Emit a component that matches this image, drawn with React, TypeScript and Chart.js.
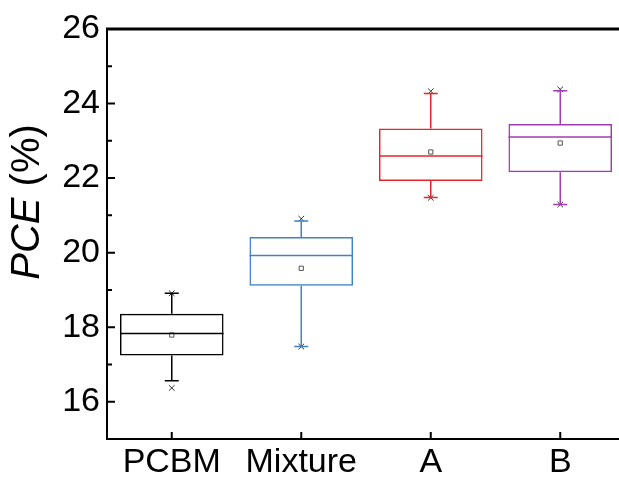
import React, { useEffect, useRef } from "react";
import { Chart, registerables } from "chart.js";

Chart.register(...registerables);

const categories = ["PCBM", "Mixture", "A", "B"];
const q1 = [17.24, 19.11, 21.92, 22.16];
const q3 = [18.36, 20.42, 23.33, 23.45];
const medians = [17.83, 19.92, 22.59, 23.1];
const means = [17.79, 19.58, 22.7, 22.94];
const whiskerLow = [16.56, 17.48, 21.48, 21.29];
const whiskerHigh = [18.91, 20.85, 24.27, 24.34];
const minVals = [16.37, 17.48, 21.47, 21.29];
const maxVals = [18.91, 20.91, 24.33, 24.38];
const yTicks = [16, 18, 20, 22, 24, 26];
const yMinorTicks = [17, 19, 21, 23, 25];
const colors = ["#000000", "#3f82c6", "#e8242b", "#a13db3"];

const FONT = "'Liberation Sans', Arial, sans-serif";

const boxPlugin = {
  id: "boxExtras",
  afterDatasetsDraw(chart: any) {
    const ctx = chart.ctx;
    const x = chart.scales.x;
    const y = chart.scales.y;
    const meta = chart.getDatasetMeta(0);
    ctx.save();
    categories.forEach((_, i) => {
      const bar = meta.data[i];
      const cx = x.getPixelForValue(i);
      const half = bar.width / 2;
      ctx.strokeStyle = colors[i];
      ctx.lineWidth = 1.5;
      ctx.beginPath();
      const ym = y.getPixelForValue(medians[i]);
      ctx.moveTo(cx - half, ym);
      ctx.lineTo(cx + half, ym);
      ctx.moveTo(cx, y.getPixelForValue(q3[i]));
      ctx.lineTo(cx, y.getPixelForValue(whiskerHigh[i]));
      ctx.moveTo(cx, y.getPixelForValue(q1[i]));
      ctx.lineTo(cx, y.getPixelForValue(whiskerLow[i]));
      const capH = y.getPixelForValue(whiskerHigh[i]);
      const capL = y.getPixelForValue(whiskerLow[i]);
      ctx.moveTo(cx - 7, capH);
      ctx.lineTo(cx + 7, capH);
      ctx.moveTo(cx - 7, capL);
      ctx.lineTo(cx + 7, capL);
      ctx.stroke();
    });
    ctx.restore();
  },
  afterDraw(chart: any) {
    const ctx = chart.ctx;
    const a = chart.chartArea;
    const x = chart.scales.x;
    const y = chart.scales.y;
    ctx.save();
    ctx.strokeStyle = "#000";
    ctx.lineCap = "butt";
    ctx.lineWidth = 2;
    ctx.beginPath();
    ctx.moveTo(a.left, a.top - 1);
    ctx.lineTo(a.left, a.bottom);
    ctx.lineTo(a.right, a.bottom);
    ctx.stroke();
    ctx.lineWidth = 3;
    ctx.beginPath();
    ctx.moveTo(a.left - 1, a.top);
    ctx.lineTo(a.right, a.top);
    ctx.stroke();
    ctx.lineWidth = 2;
    ctx.beginPath();
    yTicks.forEach((v) => {
      const py = y.getPixelForValue(v);
      ctx.moveTo(a.left, py);
      ctx.lineTo(a.left + 8, py);
    });
    yMinorTicks.forEach((v) => {
      const py = y.getPixelForValue(v);
      ctx.moveTo(a.left, py);
      ctx.lineTo(a.left + 5, py);
    });
    categories.forEach((_, i) => {
      const px = x.getPixelForValue(i);
      ctx.moveTo(px, a.bottom);
      ctx.lineTo(px, a.bottom - 7);
    });
    ctx.stroke();
    const size = 40;
    const part1 = "PCE";
    const part2 = " (%)";
    ctx.fillStyle = "#000";
    ctx.font = `italic ${size}px ${FONT}`;
    const w1 = ctx.measureText(part1).width;
    ctx.font = `${size}px ${FONT}`;
    const w2 = ctx.measureText(part2).width;
    const total = w1 + w2;
    ctx.translate(28, 202);
    ctx.rotate(-Math.PI / 2);
    ctx.textBaseline = "middle";
    ctx.textAlign = "left";
    ctx.font = `italic ${size}px ${FONT}`;
    ctx.fillText(part1, -total / 2, 0);
    ctx.font = `${size}px ${FONT}`;
    ctx.fillText(part2, -total / 2 + w1, 0);
    ctx.restore();
  },
};

function App() {
  const ref = useRef<HTMLCanvasElement | null>(null);
  useEffect(() => {
    if (!ref.current) return;
    const chart = new Chart(ref.current, {
      type: "bar",
      data: {
        labels: categories,
        datasets: [
          {
            type: "bar",
            data: categories.map((_, i) => [q1[i], q3[i]]) as any,
            backgroundColor: "rgba(0,0,0,0)",
            borderColor: colors,
            borderWidth: 1.5,
            borderSkipped: false,
            barPercentage: 0.8,
            categoryPercentage: 1,
            order: 3,
          } as any,
          {
            type: "line",
            data: means,
            showLine: false,
            pointStyle: "rect",
            pointRadius: 3,
            pointBackgroundColor: "#ffffff",
            pointBorderColor: "#555555",
            pointBorderWidth: 1,
            order: 1,
          } as any,
          {
            type: "line",
            data: minVals,
            showLine: false,
            pointStyle: "crossRot",
            pointRadius: 4,
            pointBorderColor: "#333333",
            pointBorderWidth: 1,
            order: 1,
          } as any,
          {
            type: "line",
            data: maxVals,
            showLine: false,
            pointStyle: "crossRot",
            pointRadius: 4,
            pointBorderColor: "#333333",
            pointBorderWidth: 1,
            order: 1,
          } as any,
        ],
      },
      options: {
        responsive: false,
        animation: false,
        devicePixelRatio: 1,
        layout: { padding: { top: 29, right: 4, left: 0, bottom: 0 } },
        plugins: { legend: { display: false }, tooltip: { enabled: false } },
        scales: {
          x: {
            type: "category",
            grid: { display: false, drawTicks: false },
            border: { display: false },
            ticks: {
              color: "#000",
              font: { family: FONT, size: 34 },
              padding: 3,
              maxRotation: 0,
            },
            afterFit: (s: any) => {
              s.height = 41;
            },
          },
          y: {
            type: "linear",
            min: 15,
            max: 26,
            grid: { display: false, drawTicks: false },
            border: { display: false },
            ticks: {
              color: "#000",
              font: { family: FONT, size: 34 },
              padding: 7,
            },
            afterBuildTicks: (s: any) => {
              s.ticks = yTicks.map((v) => ({ value: v }));
            },
            afterFit: (s: any) => {
              s.width = 107;
            },
          },
        },
      },
      plugins: [boxPlugin],
    });
    return () => chart.destroy();
  }, []);
  return (
    <div
      style={{
        position: "absolute",
        left: 0,
        top: 0,
        width: 619,
        height: 480,
        overflow: "hidden",
        background: "#fff",
      }}
    >
      <canvas ref={ref} width={630} height={480} style={{ display: "block" }} />
    </div>
  );
}

export default App;
